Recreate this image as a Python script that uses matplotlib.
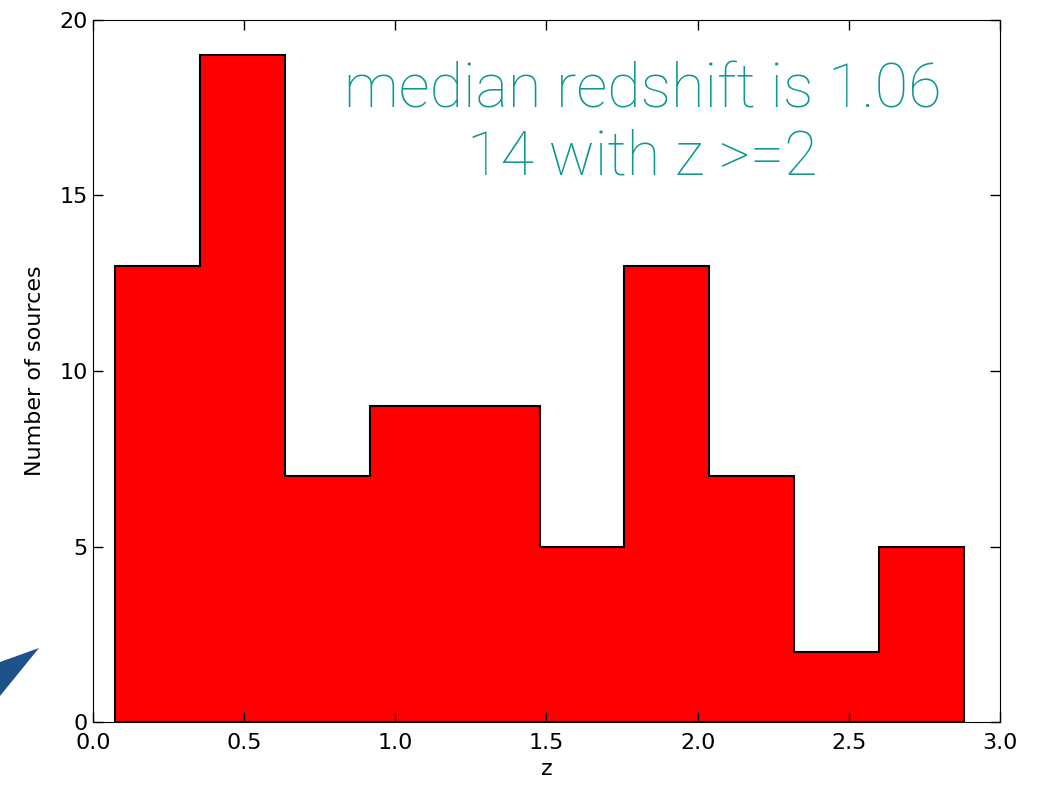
import numpy as np
import matplotlib.pyplot as plt
from matplotlib.patches import Polygon

# redshift histogram: bin edges and counts per bin
bin_edges = np.linspace(0.073, 2.881, 11)
counts = [13, 19, 7, 9, 9, 5, 13, 7, 2, 5]
bin_centers = 0.5 * (bin_edges[:-1] + bin_edges[1:])

note_lines = ["median redshift is 1.06", "14 with z >=2"]

plt.rcParams['xtick.direction'] = 'in'
plt.rcParams['ytick.direction'] = 'in'

fig = plt.figure(figsize=(10.37, 7.86), dpi=100)
ax = fig.add_axes([0.0897, 0.0814, 0.9643 - 0.0897, 0.9746 - 0.0814])

ax.hist(bin_centers, bins=bin_edges, weights=counts, histtype='stepfilled',
        facecolor='#ff0000', edgecolor='black', linewidth=1.5)

ax.set_xlim(0, 3.0)
ax.set_ylim(0, 20)
ax.set_xticks(np.arange(0, 3.01, 0.5))
ax.set_yticks([0, 5, 10, 15, 20])
ax.tick_params(top=True, right=True, length=7, width=1, labelsize=16)
ax.tick_params(axis='x', pad=8)
ax.tick_params(axis='y', pad=4)
ax.set_xlabel("z", fontsize=16, labelpad=4)
ax.set_ylabel("Number of sources", fontsize=16, labelpad=10)

ax.text(0.606, 0.941, "\n".join(note_lines), transform=ax.transAxes,
        ha='center', va='top', fontsize=44, color='#0f9790',
        family=['Roboto', 'DejaVu Sans'], fontweight='light', linespacing=1.2)

# blue arrowhead poking in from the left edge of the slide
arrow = Polygon([(0, 1 - 662 / 786), (39 / 1037, 1 - 648 / 786), (0, 1 - 696 / 786)],
                closed=True, transform=fig.transFigure, facecolor='#1f528b',
                edgecolor='none', zorder=5)
fig.patches.append(arrow)

fig.savefig("out.png", dpi=100)
